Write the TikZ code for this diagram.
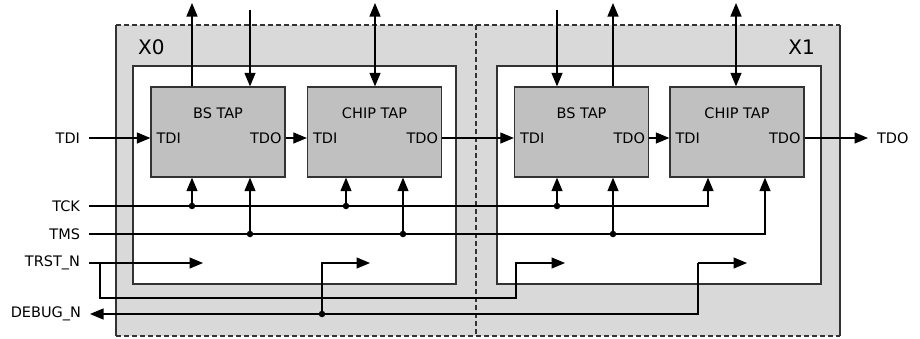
\documentclass[tikz,border=0pt]{standalone}
\usepackage{fontspec}
\setmainfont{DejaVu Sans}
\usetikzlibrary{arrows.meta,positioning,calc}
\definecolor{Shell}{HTML}{D9D9D9}
\definecolor{TapGray}{HTML}{C0C0C0}
\definecolor{Edge}{HTML}{333333}

\begin{document}
\begin{tikzpicture}[x=1pt, y=-1pt,
  tap/.style={draw=Edge, fill=TapGray, line width=1.3pt, minimum width=134pt,
              minimum height=90pt, inner sep=0pt},
  core/.style={draw=Edge, fill=white, line width=1.3pt},
  txt/.style={font=\fontsize{14.5}{17}\selectfont, inner sep=0pt},
  big/.style={font=\fontsize{20}{22}\selectfont, inner sep=0pt},
  sig/.style={txt, outer xsep=9pt},
  arr/.style={-{Triangle[length=13.5pt,width=11pt]}, line width=1.2pt},
  arrs/.style={{Triangle[length=13.5pt,width=11pt]}-{Triangle[length=13.5pt,width=11pt]}, line width=1.2pt},
  dot/.style={circle, fill=black, inner sep=0pt, minimum size=6.5pt}
]
  \useasboundingbox (0,0) rectangle (920,338);

  \fill[Shell] (116,25) rectangle (840,336);
  \draw[Edge, line width=1.3pt] (116,25) -- (116,336) (840,25) -- (840,336);
  \draw[Edge, line width=1.1pt, dash pattern=on 5pt off 3pt]
    (116,25) -- (840,25) (116,336) -- (840,336) (476,25) -- (476,336);
  \draw[core] (133,66) rectangle (456,284);
  \draw[core] (497,66) rectangle (821,284);
  \node[big, anchor=west] (x0) at (138,47) {X0};
  \node[big, anchor=east] (x1) at (815,47) {X1};

  \node[tap] (bs0)   at (218,132)   {};
  \node[tap] (chip0) at (374.5,132) {};
  \node[tap] (bs1)   at (581.5,132) {};
  \node[tap] (chip1) at (737,132)   {};
  \foreach \b/\t in {bs0/BS TAP, chip0/CHIP TAP, bs1/BS TAP, chip1/CHIP TAP}{
    \node[txt] (\b-t) at ([yshift=19pt]\b.center) {\t};
    \node[txt, anchor=west] (\b-i) at ([xshift=6pt,yshift=-6pt]\b.west) {TDI};
    \node[txt, anchor=east] (\b-o) at ([xshift=-4pt,yshift=-6pt]\b.east) {TDO};
  }

  \node[sig, anchor=east] (tdi)   at (89,138) {TDI};
  \node[sig, anchor=east] (tck)   at (89,206) {TCK};
  \node[sig, anchor=east] (tms)   at (89,234) {TMS};
  \node[sig, anchor=east] (trst)  at (89,263) {TRST\_N};
  \node[sig, anchor=east] (debug) at (90,314) {DEBUG\_N};
  \node[sig, anchor=west] (tdo)   at (868,138) {TDO};

  % scan chain
  \draw[arr] (tdi.east) -- (tdi.east -| bs0.west);
  \draw[arr] (bs0.east |- bs0-o) -- (chip0.west |- bs0-o);
  \draw[arr] (chip0.east |- chip0-o) -- (bs1.west |- chip0-o);
  \draw[arr] (bs1.east |- bs1-o) -- (chip1.west |- bs1-o);
  \draw[arr] (chip1.east |- chip1-o) -- (tdo.west);

  % top pins
  \coordinate (up0) at (192,3);
  \coordinate (dn0) at (250,10);
  \coordinate (io0) at (375,3);
  \coordinate (dn1) at (557,10);
  \coordinate (up1) at (613,3);
  \coordinate (io1) at (736,3);
  \draw[arr]  (bs0.north -| up0) -- (up0);
  \draw[arr]  (dn0) -- (bs0.north -| dn0);
  \draw[arrs] (io0) -- (chip0.north -| io0);
  \draw[arr]  (dn1) -- (bs1.north -| dn1);
  \draw[arr]  (bs1.north -| up1) -- (up1);
  \draw[arrs] (io1) -- (chip1.north -| io1);

  % TCK / TMS
  \coordinate (ck3) at (708,206);
  \coordinate (ms3) at (765,234);
  \draw[arr] (tck.east) -- (ck3) -- (chip1.south -| ck3);
  \draw[arr] (tms.east) -- (ms3) -- (chip1.south -| ms3);
  \foreach \n/\x/\b in {0/192/bs0, 1/346/chip0, 2/557/bs1}{
    \node[dot] (ck\n) at (\x,206) {};
    \draw[arr] (ck\n) -- (\b.south -| ck\n);
  }
  \foreach \n/\x/\b in {0/250/bs0, 1/403/chip0, 2/613/bs1}{
    \node[dot] (ms\n) at (\x,234) {};
    \draw[arr] (ms\n) -- (\b.south -| ms\n);
  }

  % TRST_N / DEBUG_N
  \coordinate (rs0)  at (100,263);
  \coordinate (rs-a) at (203,263);
  \coordinate (rs1)  at (516,263);
  \coordinate (rs-b) at (565,263);
  \draw[arr] (trst.east) -- (rs-a);
  \draw[arr] (rs0) -- ++(0,35) -| (rs1) -- (rs-b);
  \coordinate (db1)  at (698,263);
  \coordinate (db-b) at (747,263);
  \coordinate (db-a) at (370,263);
  \draw[arr] (db1) -- (db-b);
  \draw[arr] (db1) |- (debug.east);
  \node[dot] (db0) at (322,314) {};
  \draw[arr] (db0) |- (db-a);
\end{tikzpicture}
\end{document}
